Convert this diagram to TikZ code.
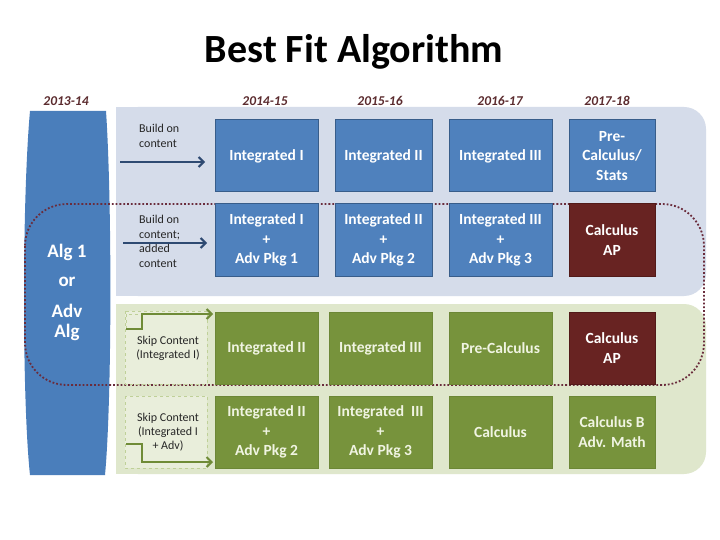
\documentclass[tikz,border=0pt]{standalone}
\usepackage{fontspec}
\setmainfont{Carlito}
\usetikzlibrary{arrows.meta}
\definecolor{bluebox}{HTML}{4F81BD}
\definecolor{blueedge}{HTML}{385D8A}
\definecolor{bluepanel}{HTML}{D5DCEA}
\definecolor{leftcol}{HTML}{4A7EBB}
\definecolor{greenpanel}{HTML}{DFE7CC}
\definecolor{greenbox}{HTML}{77933C}
\definecolor{greenedge}{HTML}{6C8736}
\definecolor{redbox}{HTML}{682322}
\definecolor{rededge}{HTML}{521A19}
\definecolor{dotcol}{HTML}{6A2C3C}
\definecolor{yearcol}{HTML}{5B2B2E}
\definecolor{navyarrow}{HTML}{2E4A72}
\definecolor{greenarrow}{HTML}{6F8B37}
\definecolor{dashgreen}{HTML}{BFD098}
\definecolor{greentext}{HTML}{F0F4E2}
\begin{document}
\begin{tikzpicture}[x=1pt,y=-1pt,
  cell/.style={minimum height=72pt,inner sep=1pt,align=center,font=\fontsize{15.5}{19.5}\selectfont\bfseries,text=white,line width=1pt},
  bcell/.style={cell,fill=bluebox,draw=blueedge},
  gcell/.style={cell,fill=greenbox,draw=greenedge,text=greentext},
  rcell/.style={cell,fill=redbox,draw=rededge},
  year/.style={font=\fontsize{13.5}{15}\selectfont\bfseries\itshape,text=yearcol},
  note/.style={font=\fontsize{12}{14.5}\selectfont,text=black!85,align=left,inner sep=0pt},
  gnote/.style={font=\fontsize{12}{14.2}\selectfont,text=black!85,align=center,inner sep=0pt},
  colt/.style={font=\fontsize{19}{21}\selectfont\bfseries,text=white},
  skipbox/.style={draw=dashgreen,dashed,line width=0.8pt,fill=greenpanel!70!white},
  navy/.style={draw=navyarrow,line width=2.4pt,-{Straight Barb[length=5pt,width=10pt,line width=2pt]}},
  garrow/.style={draw=greenarrow,line width=2.4pt,-{Straight Barb[length=5pt,width=10pt,line width=2pt]}}
]
\useasboundingbox (0,0) rectangle (720,540);
\fill[white] (0,0) rectangle (720,540);

% title
\node (title) at (354,52) {\fontsize{40}{44}\selectfont\bfseries Best Fit Algorithm};

% years
\node[year] (y13) at (66,101) {2013-14};
\node[year] (y14) at (265,101) {2014-15};
\node[year] (y15) at (380,101) {2015-16};
\node[year] (y16) at (500,101) {2016-17};
\node[year] (y17) at (607,101) {2017-18};

% panels
\fill[bluepanel, rounded corners=22pt] (116,107) rectangle (706,296);
\fill[bluepanel] (116,107) rectangle (160,296);
\fill[greenpanel, rounded corners=22pt] (116,304) rectangle (706,474);
\fill[greenpanel] (116,304) rectangle (160,474);

% left column
\fill[leftcol] (30,111) -- (106,111) .. controls (112,200) and (112,400) .. (105,475)
  -- (30,475) .. controls (22,400) and (22,200) .. (30,111) -- cycle;
\node[colt] (alg1) at (67,252) {Alg 1};
\node[colt] (or) at (67,282) {or};
\node[colt] (adv) at (67,311) {Adv};
\node[colt] (alg) at (67,332) {Alg};

% dotted outline
\draw[dotcol, line width=1.8pt, dotted, rounded corners=42pt] (25,204) rectangle (704,385);

% skip boxes
\draw[skipbox] (125,311) rectangle (207,384);
\draw[skipbox] (125,396) rectangle (207,468);

% row 1
\node[bcell,minimum width=103pt] (r1c1) at (266.5,156) {Integrated I};
\node[bcell,minimum width=97pt] (r1c2) at (383.5,156) {Integrated II};
\node[bcell,minimum width=103pt] (r1c3) at (500.5,156) {Integrated III};
\node[bcell,minimum width=86pt] (r1c4) at (612,156) {Pre-\\Calculus/\\Stats};
% row 2
\node[bcell,minimum width=103pt] (r2c1) at (266.5,240) {Integrated I\\+\\Adv Pkg 1};
\node[bcell,minimum width=97pt] (r2c2) at (383.5,240) {Integrated II\\+\\Adv Pkg 2};
\node[bcell,minimum width=103pt] (r2c3) at (500.5,240) {Integrated III\\+\\Adv Pkg 3};
\node[rcell,minimum width=86pt] (r2c4) at (612,240) {Calculus\\AP};
% row 3
\node[gcell,minimum width=103pt] (r3c1) at (266.5,348) {Integrated II};
\node[gcell,minimum width=103pt] (r3c2) at (380.5,348) {Integrated III};
\node[gcell,minimum width=103pt] (r3c3) at (500.5,348) {Pre-Calculus};
\node[rcell,minimum width=86pt] (r3c4) at (612,348) {Calculus\\AP};
% row 4
\node[gcell,minimum width=103pt] (r4c1) at (266.5,432) {Integrated II\\+\\Adv Pkg 2};
\node[gcell,minimum width=103pt] (r4c2) at (380.5,432) {Integrated~ III\\+\\Adv Pkg 3};
\node[gcell,minimum width=103pt] (r4c3) at (500.5,432) {Calculus};
\node[gcell,minimum width=86pt] (r4c4) at (612,432) {Calculus B\\Adv. Math};

% notes
\node[note,anchor=north west] (n1) at (139,124) {Build on\\content};
\node[note,anchor=north west] (n2) at (139,215) {Build on\\content;\\added\\content};
\node[gnote] (n3) at (168,348) {Skip Content\\(Integrated I)};
\node[gnote] (n4) at (168,432) {Skip Content\\(Integrated I\\+ Adv)};

% arrows
\coordinate (a1s) at (120,162);
\coordinate (a1e) at (205,162);
\coordinate (a2s) at (123,243);
\coordinate (a2e) at (207,243);
\draw[navy] (a1s) -- (a1e);
\draw[navy] (a2s) -- (a2e);

\coordinate (g1s) at (126,329);
\coordinate (g1b) at (142,329);
\coordinate (g1c) at (142,314);
\coordinate (g1e) at (213,314);
\draw[dashgreen,dashed,line width=0.8pt] (g1s) -- (126,314) -- (g1c);
\draw[garrow] (g1s) -- (g1b) -- (g1c) -- (g1e);

\coordinate (g2s) at (126,444);
\coordinate (g2b) at (142,444);
\coordinate (g2c) at (142,462);
\coordinate (g2e) at (213,462);
\draw[garrow] (g2s) -- (g2b) -- (g2c) -- (g2e);
\end{tikzpicture}
\end{document}
